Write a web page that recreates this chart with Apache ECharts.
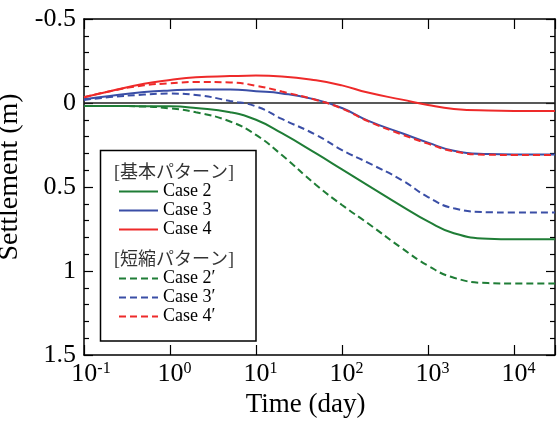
<!DOCTYPE html>
<html>
<head>
<meta charset="utf-8">
<script src="https://cdn.jsdelivr.net/npm/echarts@6/dist/echarts.min.js"></script>
<style>
  html, body { margin: 0; padding: 0; background: #fff; }
  #chart { width: 558px; height: 421px; }
</style>
</head>
<body>
<div id="chart"></div>
<script>
/* ---------- データ ---------- */

const times = [0.1, 0.2, 0.5, 1, 2, 5, 10, 20, 50, 100, 200, 500, 1000, 2000, 5000, 10000, 30000];

// 基本パターン
const case2 = [0.018, 0.018, 0.019, 0.02, 0.03, 0.055, 0.10, 0.18, 0.30, 0.395, 0.49, 0.615, 0.705, 0.775, 0.808, 0.811, 0.811];
const case3 = [-0.022, -0.042, -0.065, -0.075, -0.08, -0.08, -0.07, -0.057, -0.02, 0.03, 0.105, 0.18, 0.236, 0.284, 0.304, 0.306, 0.306];
const case4 = [-0.034, -0.07, -0.115, -0.137, -0.153, -0.16, -0.163, -0.158, -0.135, -0.105, -0.062, -0.02, 0.012, 0.035, 0.045, 0.047, 0.047];

// 短縮パターン
const case2s = [0.018, 0.018, 0.021, 0.032, 0.055, 0.11, 0.19, 0.31, 0.488, 0.607, 0.716, 0.865, 0.968, 1.04, 1.072, 1.075, 1.075];
const case3s = [-0.018, -0.035, -0.05, -0.056, -0.048, -0.012, 0.02, 0.095, 0.19, 0.28, 0.355, 0.46, 0.56, 0.627, 0.65, 0.652, 0.652];
const case4s = [-0.034, -0.07, -0.105, -0.117, -0.125, -0.122, -0.103, -0.068, -0.018, 0.033, 0.108, 0.188, 0.242, 0.288, 0.308, 0.309, 0.309];

const yTicks = ['-0.5', '0', '0.5', '1', '1.5'];

/* ---------- スタイル ---------- */

const FONT = 'Liberation Serif, Times New Roman, serif';
const GREEN = '#1f7d36';
const BLUE = '#3a4ea6';
const RED = '#ee2a2a';
const DASH = [7, 4];
const AXIS_LINE = { onZero: false, lineStyle: { color: '#000', width: 1.5 } };

function pairs(vals) {
  return times.map((t, i) => [t, vals[i]]);
}

function curve(name, vals, color, dashed) {
  return {
    name,
    type: 'line',
    data: pairs(vals),
    smooth: 0.5,
    symbol: 'none',
    lineStyle: { color, width: 2, type: dashed ? DASH : 'solid' },
    itemStyle: { color },
    z: 3,
  };
}

function isDecade(v) {
  const e = Math.log10(v);
  return Math.abs(e - Math.round(e)) < 1e-6;
}

const chart = echarts.init(document.getElementById('chart'), null, { renderer: 'canvas' });

// 凡例：線のみ（マーカーは透明）
const legendBase = {
  orient: 'vertical',
  left: 113,
  padding: 5,
  itemWidth: 39,
  itemHeight: 14,
  itemGap: 0,
  itemStyle: { opacity: 0 },
  textStyle: { fontFamily: FONT, fontSize: 18, color: '#000', lineHeight: 19 },
  z: 6,
};

const logAxis = {
  type: 'log',
  logBase: 10,
  min: 0.1,
  max: 30000,
  axisLine: AXIS_LINE,
  axisTick: { inside: true, length: 10, lineStyle: { color: '#000', width: 1.2 } },
  minorTick: { show: false },
  splitLine: { show: false },
};

const valAxis = {
  type: 'value',
  inverse: true,
  min: -0.5,
  max: 1.5,
  interval: 0.5,
  axisLine: AXIS_LINE,
  axisTick: { inside: true, length: 9, lineStyle: { color: '#000', width: 1.2 } },
  minorTick: { show: true, splitNumber: 5, length: 5, lineStyle: { color: '#000', width: 1.2 } },
  splitLine: { show: false },
};

chart.setOption({
  animation: false,
  backgroundColor: '#fff',
  grid: { left: 84, right: 3, top: 19, bottom: 66, outerBoundsMode: 'none' },
  xAxis: [
    {
      ...logAxis,
      position: 'bottom',
      name: 'Time (day)',
      nameLocation: 'middle',
      nameGap: 34,
      nameTextStyle: { fontFamily: FONT, fontSize: 27, color: '#000', padding: [0, 28, 0, 0] },
      axisLabel: {
        margin: 6,
        color: '#000',
        formatter: (v) => {
          if (!isDecade(v)) return '';
          const e = Math.round(Math.log10(v));
          return (e < 0 ? '{bn|10}' : '{b|10}') + '{s|' + e + '}';
        },
        rich: {
          b: { fontFamily: FONT, fontSize: 26, color: '#000', padding: [0, 0, 0, 9] },
          bn: { fontFamily: FONT, fontSize: 26, color: '#000', padding: [0, 0, 0, 14] },
          s: { fontFamily: FONT, fontSize: 16, color: '#000', verticalAlign: 'top' },
        },
      },
    },
    {
      ...logAxis,
      position: 'top',
      axisLabel: { show: false },
    },
  ],
  yAxis: [
    {
      ...valAxis,
      position: 'left',
      name: 'Settlement (m)',
      nameLocation: 'middle',
      nameGap: 45,
      nameRotate: 90,
      nameTextStyle: { fontFamily: FONT, fontSize: 28, color: '#000', padding: [0, 0, 0, 20] },
      axisLabel: {
        margin: 8,
        fontFamily: FONT,
        fontSize: 26,
        color: '#000',
        formatter: (v) => yTicks[Math.round((v + 0.5) / 0.5)] ?? '',
      },
    },
    {
      ...valAxis,
      position: 'right',
      axisLabel: { show: false },
    },
  ],
  legend: [
    { ...legendBase, top: 177, data: ['Case 2', 'Case 3', 'Case 4'] },
    { ...legendBase, top: 264, data: ['Case 2\u2032', 'Case 3\u2032', 'Case 4\u2032'] },
  ],
  graphic: [
    {
      type: 'rect',
      shape: { x: 100.5, y: 150.5, width: 155.5, height: 190.5 },
      style: { fill: '#fff', stroke: '#000', lineWidth: 1.5 },
      z: 5,
    },
    {
      type: 'text',
      x: 114,
      y: 173,
      style: { text: '[基本パターン]', fontFamily: 'Liberation Serif, Noto Sans CJK JP', fontSize: 18, fill: '#333', verticalAlign: 'middle' },
      z: 6,
    },
    {
      type: 'text',
      x: 114,
      y: 260,
      style: { text: '[短縮パターン]', fontFamily: 'Liberation Serif, Noto Sans CJK JP', fontSize: 18, fill: '#333', verticalAlign: 'middle' },
      z: 6,
    },
  ],
  series: [
    {
      ...curve('Case 2', case2, GREEN, false),
      markLine: {
        silent: true,
        symbol: ['none', 'none'],
        label: { show: false },
        lineStyle: { color: '#222', width: 1.5, type: 'solid' },
        data: [{ yAxis: 0 }],
        z: 2,
      },
    },
    curve('Case 3', case3, BLUE, false),
    curve('Case 4', case4, RED, false),
    curve('Case 2\u2032', case2s, GREEN, true),
    curve('Case 3\u2032', case3s, BLUE, true),
    curve('Case 4\u2032', case4s, RED, true),
  ],
});
</script>
</body>
</html>
